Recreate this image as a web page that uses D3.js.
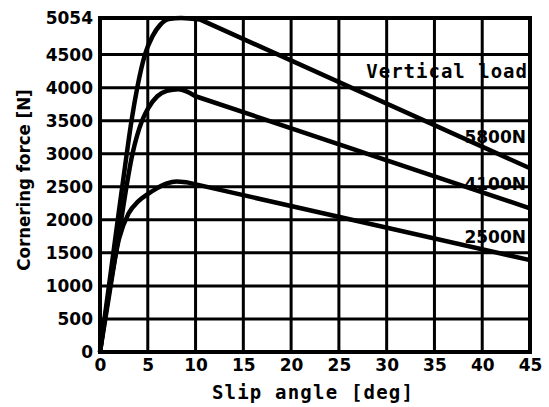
<!DOCTYPE html>
<html>
<head>
<meta charset="utf-8">
<script src="https://cdn.jsdelivr.net/npm/d3@7"></script>
<style>
  html, body { margin: 0; padding: 0; background: #fff; }
  svg { display: block; }
  .tick text { font-family: "DejaVu Sans", sans-serif; font-weight: bold; font-size: 17px; fill: #000; }
  .mono { font-family: "DejaVu Sans Mono", monospace; font-weight: bold; }
</style>
</head>
<body>
<svg id="chart" width="549" height="407"></svg>
<script>
// slip angle [deg] / cornering force [N]
// last point of each series is the end of the straight falling part
const slip5800 = [0, 1, 2, 2.8, 3.3, 3.9, 4.7, 5.5, 6.3, 7.2, 8.5, 10.5, 45];
const force5800 = [0, 1070, 2150, 3000, 3500, 4000, 4500, 4780, 4950, 5040, 5054, 5030, 2780];
const slip4100 = [0, 1, 2, 3.4, 4.4, 5, 6, 7, 8.2, 10, 45];
const force4100 = [0, 900, 1800, 3000, 3500, 3680, 3870, 3950, 3975, 3870, 2175];
const slip2500 = [0, 1, 2, 3, 4, 5, 6, 7, 8, 9, 45];
const force2500 = [0, 950, 1720, 2100, 2280, 2390, 2480, 2550, 2580, 2570, 1390];

const xTicks = [0, 5, 10, 15, 20, 25, 30, 35, 40, 45];
const yTicks = [0, 500, 1000, 1500, 2000, 2500, 3000, 3500, 4000, 4500, 5054];

const series = [
  { name: "5800N", xs: slip5800, ys: force5800, labelY: 3240 },
  { name: "4100N", xs: slip4100, ys: force4100, labelY: 2525 },
  { name: "2500N", xs: slip2500, ys: force2500, labelY: 1725 }
];

const svg = d3.select("#chart");
const x = d3.scaleLinear().domain([0, 45]).range([100, 530]);
const y = d3.scaleLinear().domain([0, 5054]).range([352, 18]);

// grid
const grid = svg.append("g").attr("stroke", "#000").attr("stroke-width", 3);
grid.selectAll(".gx").data(xTicks).join("line")
  .attr("x1", d => x(d)).attr("x2", d => x(d))
  .attr("y1", y(0)).attr("y2", y(5054));
grid.selectAll(".gy").data(yTicks).join("line")
  .attr("y1", d => y(d)).attr("y2", d => y(d))
  .attr("x1", x(0)).attr("x2", x(45));

// frame
svg.append("rect")
  .attr("x", x(0)).attr("y", y(5054))
  .attr("width", x(45) - x(0)).attr("height", y(0) - y(5054))
  .attr("fill", "none").attr("stroke", "#000").attr("stroke-width", 4);

// axes
svg.append("g")
  .attr("transform", `translate(0,${y(0)})`)
  .call(d3.axisBottom(x).tickValues(xTicks).tickSize(0).tickPadding(7).tickFormat(d3.format("d")))
  .call(g => g.select(".domain").remove());

svg.append("g")
  .attr("transform", `translate(${x(0)},0)`)
  .call(d3.axisLeft(y).tickValues(yTicks).tickSize(0).tickPadding(7).tickFormat(d3.format("d")))
  .call(g => g.select(".domain").remove());

// curves: smooth rise to the peak, then a straight fall to 45 deg
const smooth = d3.line().curve(d3.curveMonotoneX);
function curvePath(s) {
  const pts = s.xs.map((v, i) => [x(v), y(s.ys[i])]);
  const last = pts[pts.length - 1];
  return smooth(pts.slice(0, -1)) + `L${last[0]},${last[1]}`;
}
svg.append("g").selectAll("path").data(series).join("path")
  .attr("d", curvePath)
  .attr("fill", "none").attr("stroke", "#000").attr("stroke-width", 4.5)
  .attr("stroke-linejoin", "round");

// labels
svg.append("g").selectAll("text").data(series).join("text")
  .attr("x", x(45) - 4).attr("y", s => y(s.labelY))
  .attr("text-anchor", "end").attr("dominant-baseline", "middle")
  .attr("font-family", "DejaVu Sans, sans-serif").attr("font-weight", "bold")
  .attr("font-size", 17)
  .text(s => s.name);

svg.append("text").attr("class", "mono")
  .attr("x", x(45) - 2).attr("y", y(4236))
  .attr("text-anchor", "end").attr("dominant-baseline", "middle")
  .attr("font-size", 19).attr("letter-spacing", 1)
  .text("Vertical load");

svg.append("text").attr("class", "mono")
  .attr("x", (x(0) + x(45)) / 2 - 2).attr("y", 399)
  .attr("text-anchor", "middle").attr("font-size", 19).attr("letter-spacing", 1.2)
  .text("Slip angle [deg]");

svg.append("text")
  .attr("transform", `translate(30,${(y(0) + y(5054)) / 2 - 5}) rotate(-90)`)
  .attr("text-anchor", "middle")
  .attr("font-family", "DejaVu Sans Condensed, DejaVu Sans, sans-serif")
  .attr("font-weight", "bold").attr("font-size", 18.5)
  .text("Cornering force [N]");
</script>
</body>
</html>
